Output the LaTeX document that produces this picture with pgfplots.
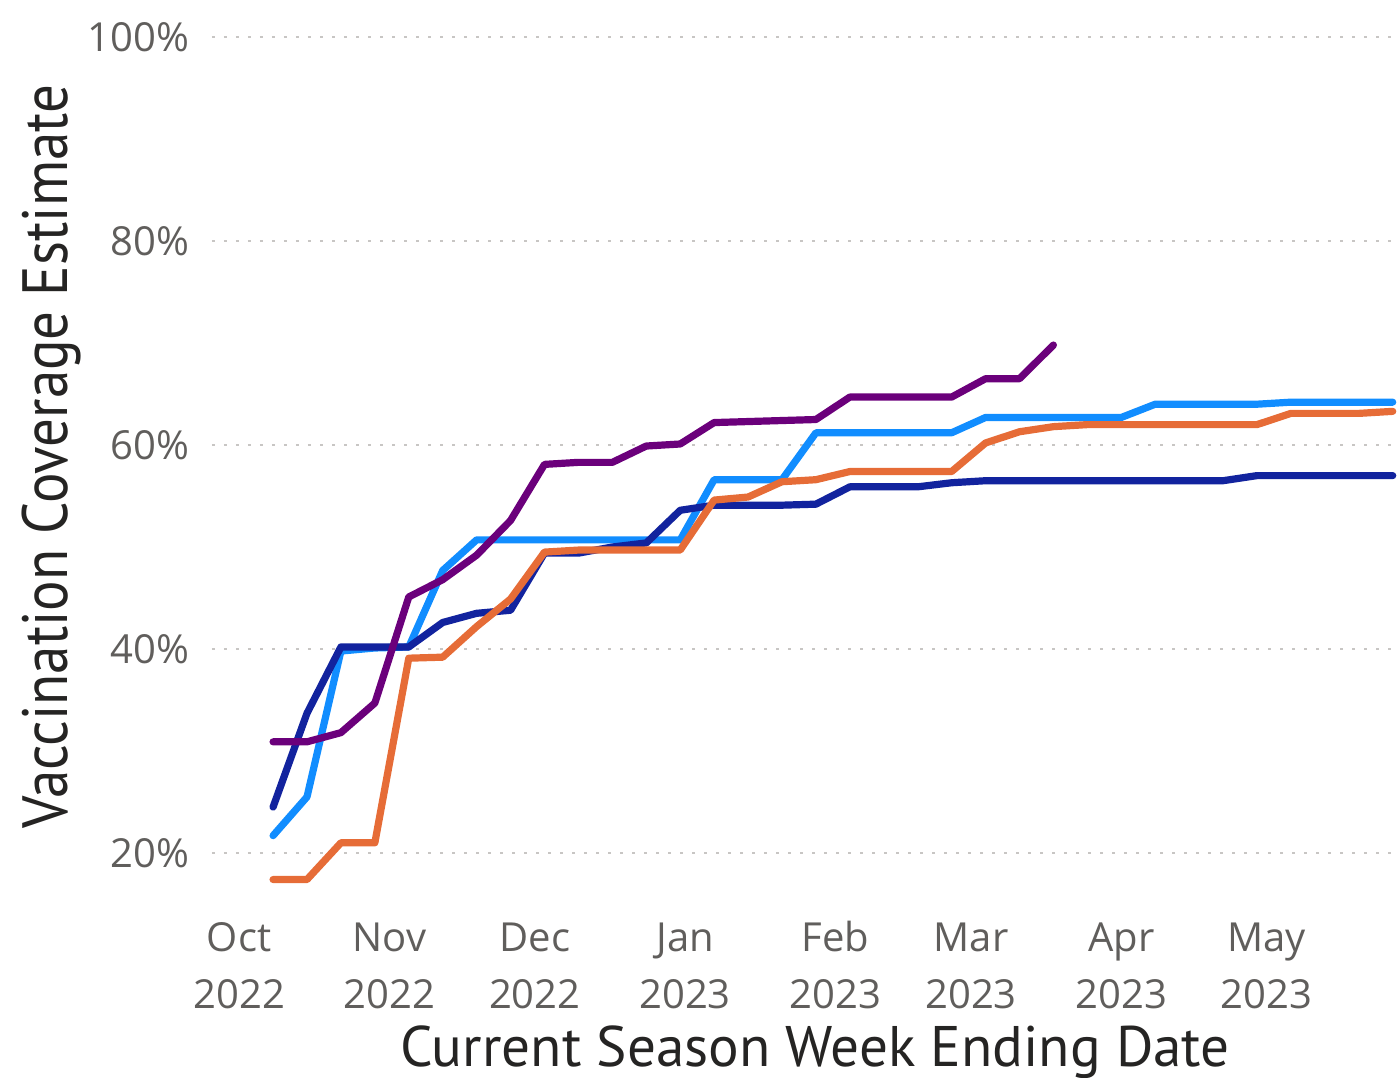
\documentclass[border=0pt]{standalone}
\usepackage{pgfplots}
\pgfplotsset{compat=1.18}
\usepackage{graphicx}
\usepackage{fontspec}
\setmainfont{Open Sans}
\newfontfamily\titlefont{PT Sans}
\definecolor{cLB}{HTML}{118DFF}
\definecolor{cNV}{HTML}{12239E}
\definecolor{cOR}{HTML}{E66C37}
\definecolor{cPU}{HTML}{6B007B}
\definecolor{tickgray}{HTML}{605E5C}
\definecolor{gridgray}{HTML}{C8C6C4}
\definecolor{titleblack}{HTML}{252423}
\begin{document}
\begin{tikzpicture}
\path[use as bounding box] (-53pt,-43.5pt) rectangle (296.75pt,226pt);
\begin{axis}[
  name=ax,
  scale only axis,
  width=296.75pt, height=216.75pt,
  xmin=-5.6, xmax=239.3,
  ymin=15, ymax=100,
  axis line style={draw=none},
  major tick length=0pt,
  ytick={20,40,60,80,100},
  yticklabels={20\%,40\%,60\%,80\%,100\%},
  xtick={0,31,61,92,123,151,182,212},
  xticklabels={{\strut Oct\\2022},{\strut Nov\\2022},{\strut Dec\\2022},{\strut Jan\\2023},{\strut Feb\\2023},{\strut Mar\\2023},{\strut Apr\\2023},{\strut May\\2023}},
  ymajorgrids,
  major grid style={draw=gridgray, line width=0.7pt, dash pattern=on 0.7pt off 2.3pt},
  ticklabel style={font=\fontsize{10}{14.25}\selectfont, text=tickgray},
  yticklabel style={anchor=east, inner sep=0pt, xshift=-5.5pt},
  xticklabel style={align=center, anchor=north, inner sep=0pt, yshift=-1.6pt},
  xlabel={Current Season Week Ending Date},
  ylabel={\scalebox{0.89}[1]{Vaccination Coverage Estimate}},
  xlabel style={font=\titlefont\fontsize{14.3}{16}\selectfont, text=titleblack, at={(axis description cs:0.508,-0.1707)}, anchor=center},
  ylabel style={font=\titlefont\fontsize{16}{18}\selectfont, text=titleblack, at={(axis description cs:-0.1348,0.516)}, anchor=center},
  every axis plot/.append style={line width=1.8pt, line join=round, line cap=round, mark=none},
  clip=false,
]
\addplot[cLB] coordinates {
(7,21.7)(14,25.5)(21,39.8)(28,40.1)(35,40.2)(42,47.7)(49,50.7)(56,50.7)(63,50.7)(70,50.7)(77,50.7)(84,50.7)(91,50.7)(98,56.6)(105,56.6)(112,56.6)(119,61.2)(126,61.2)(133,61.2)(140,61.2)(147,61.2)(154,62.7)(161,62.7)(168,62.7)(175,62.7)(182,62.7)(189,64.0)(196,64.0)(203,64.0)(210,64.0)(217,64.2)(224,64.2)(231,64.2)(238,64.2)
};
\addplot[cNV] coordinates {
(7,24.5)(14,33.7)(21,40.2)(28,40.2)(35,40.2)(42,42.6)(49,43.5)(56,43.8)(63,49.4)(70,49.4)(77,50.0)(84,50.4)(91,53.6)(98,54.1)(105,54.1)(112,54.1)(119,54.2)(126,55.9)(133,55.9)(140,55.9)(147,56.3)(154,56.5)(161,56.5)(168,56.5)(175,56.5)(182,56.5)(189,56.5)(196,56.5)(203,56.5)(210,57.0)(217,57.0)(224,57.0)(231,57.0)(238,57.0)
};
\addplot[cOR] coordinates {
(7,17.4)(14,17.4)(21,21.0)(28,21.0)(35,39.1)(42,39.2)(49,42.2)(56,44.9)(63,49.5)(70,49.7)(77,49.7)(84,49.7)(91,49.7)(98,54.6)(105,54.9)(112,56.4)(119,56.6)(126,57.4)(133,57.4)(140,57.4)(147,57.4)(154,60.2)(161,61.3)(168,61.8)(175,62.0)(182,62.0)(189,62.0)(196,62.0)(203,62.0)(210,62.0)(217,63.1)(224,63.1)(231,63.1)(238,63.3)
};
\addplot[cPU] coordinates {
(7,30.9)(14,30.9)(21,31.8)(28,34.7)(35,45.1)(42,46.8)(49,49.2)(56,52.6)(63,58.1)(70,58.3)(77,58.3)(84,59.9)(91,60.1)(98,62.2)(105,62.3)(112,62.4)(119,62.5)(126,64.7)(133,64.7)(140,64.7)(147,64.7)(154,66.5)(161,66.5)(168,69.8)
};
\end{axis}
\end{tikzpicture}
\end{document}
